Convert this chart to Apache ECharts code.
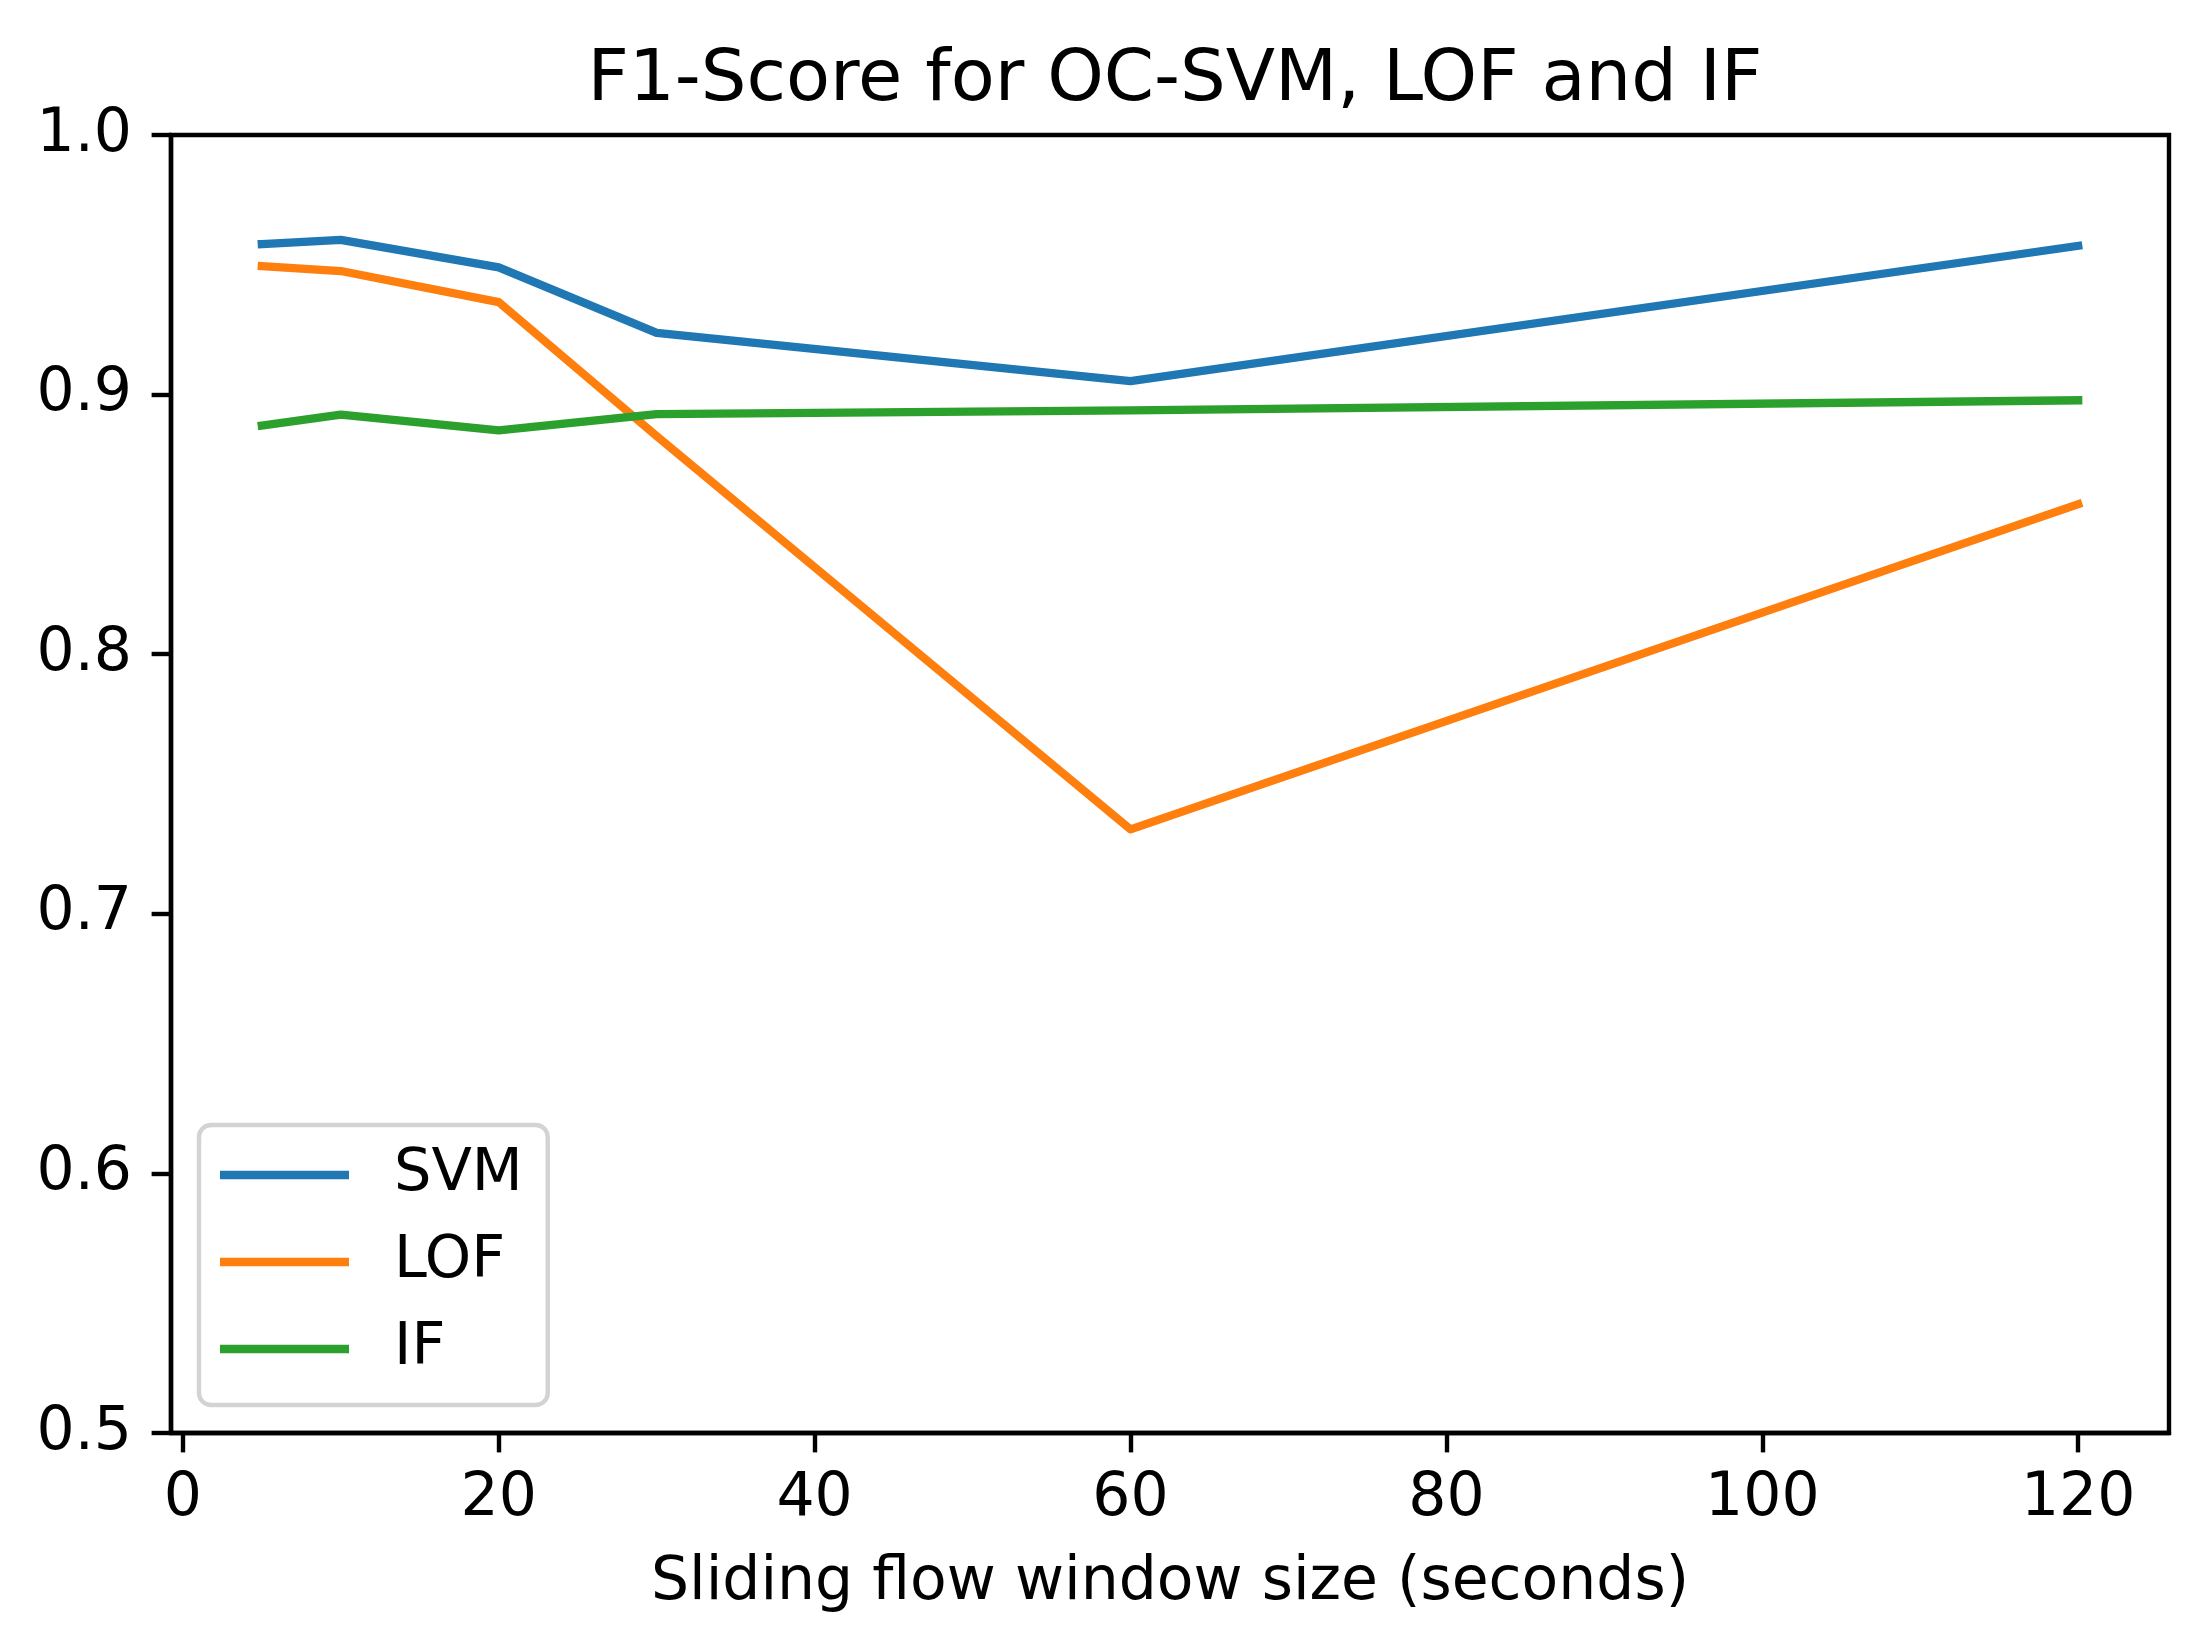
<!DOCTYPE html>
<html>
<head>
<meta charset="utf-8">
<script src="https://cdn.jsdelivr.net/npm/echarts@6/dist/echarts.min.js"></script>
<style>
html,body{margin:0;padding:0;background:#fff;}
#chart{width:2211px;height:1648px;}
</style>
</head>
<body>
<div id="chart"></div>
<script>
const windowSizes = [5, 10, 20, 30, 60, 120];
const svmScores = [0.958, 0.9596, 0.949, 0.9238, 0.9052, 0.9573];
const lofScores = [0.9495, 0.9476, 0.9356, 0.884, 0.7325, 0.8578];
const ifScores  = [0.8881, 0.8923, 0.8862, 0.8925, 0.8939, 0.8978];
const xTicks = [0, 20, 40, 60, 80, 100, 120];
const seriesNames = ['SVM', 'LOF', 'IF'];
const colors = ['#1f77b4', '#ff7f0e', '#2ca02c'];

const FONT = 'DejaVu Sans';
const pair = (xs, ys) => xs.map((x, i) => [x, ys[i]]);
const lineSeries = (name, ys, color) => ({
  name: name, type: 'line', data: pair(windowSizes, ys),
  showSymbol: false, symbol: 'none', animation: false,
  itemStyle: {color: color},
  lineStyle: {color: color, width: 8.3, join: 'round', cap: 'square'}
});

const chart = echarts.init(document.getElementById('chart'), null, {renderer: 'canvas'});
chart.setOption({
  backgroundColor: '#ffffff',
  animation: false,
  title: {
    text: 'F1-Score for OC-SVM, LOF and IF',
    left: 1170, top: 40, textAlign: 'center',
    textStyle: {fontFamily: FONT, fontSize: 72, fontWeight: 'normal', color: '#000'}
  },
  grid: {
    left: 171, right: 42, top: 135, bottom: 215,
    show: true, borderColor: '#000', borderWidth: 4.4, backgroundColor: 'transparent'
  },
  legend: {
    orient: 'vertical', left: 199, top: 1125,
    data: seriesNames,
    icon: 'rect', itemWidth: 129, itemHeight: 8.3, itemGap: 27,
    padding: [20, 25, 26, 21],
    backgroundColor: '#ffffff', borderColor: '#d3d3d3', borderWidth: 4.4, borderRadius: 12,
    textStyle: {fontFamily: FONT, fontSize: 59, color: '#000', lineHeight: 60, padding: [0, 0, 0, 40]}
  },
  xAxis: {
    type: 'value', min: -0.75, max: 125.75,
    name: 'Sliding flow window size (seconds)', nameLocation: 'middle', nameGap: 120,
    nameTextStyle: {fontFamily: FONT, fontSize: 60, color: '#000'},
    axisLine: {show: true, onZero: false, lineStyle: {color: '#000', width: 4.4}},
    axisTick: {show: true, inside: false, length: 19.4, customValues: xTicks, lineStyle: {color: '#000', width: 4.4}},
    axisLabel: {show: true, margin: 36, customValues: xTicks, fontFamily: FONT, fontSize: 60, color: '#000'},
    splitLine: {show: false}
  },
  yAxis: {
    type: 'value', min: 0.5, max: 1.0, interval: 0.1,
    axisLine: {show: true, onZero: false, lineStyle: {color: '#000', width: 4.4}},
    axisTick: {show: true, inside: false, length: 19.4, lineStyle: {color: '#000', width: 4.4}},
    axisLabel: {show: true, margin: 39, fontFamily: FONT, fontSize: 60, color: '#000',
      formatter: v => v.toFixed(1)},
    splitLine: {show: false}
  },
  series: [
    lineSeries(seriesNames[0], svmScores, colors[0]),
    lineSeries(seriesNames[1], lofScores, colors[1]),
    lineSeries(seriesNames[2], ifScores, colors[2])
  ]
});
</script>
</body>
</html>
